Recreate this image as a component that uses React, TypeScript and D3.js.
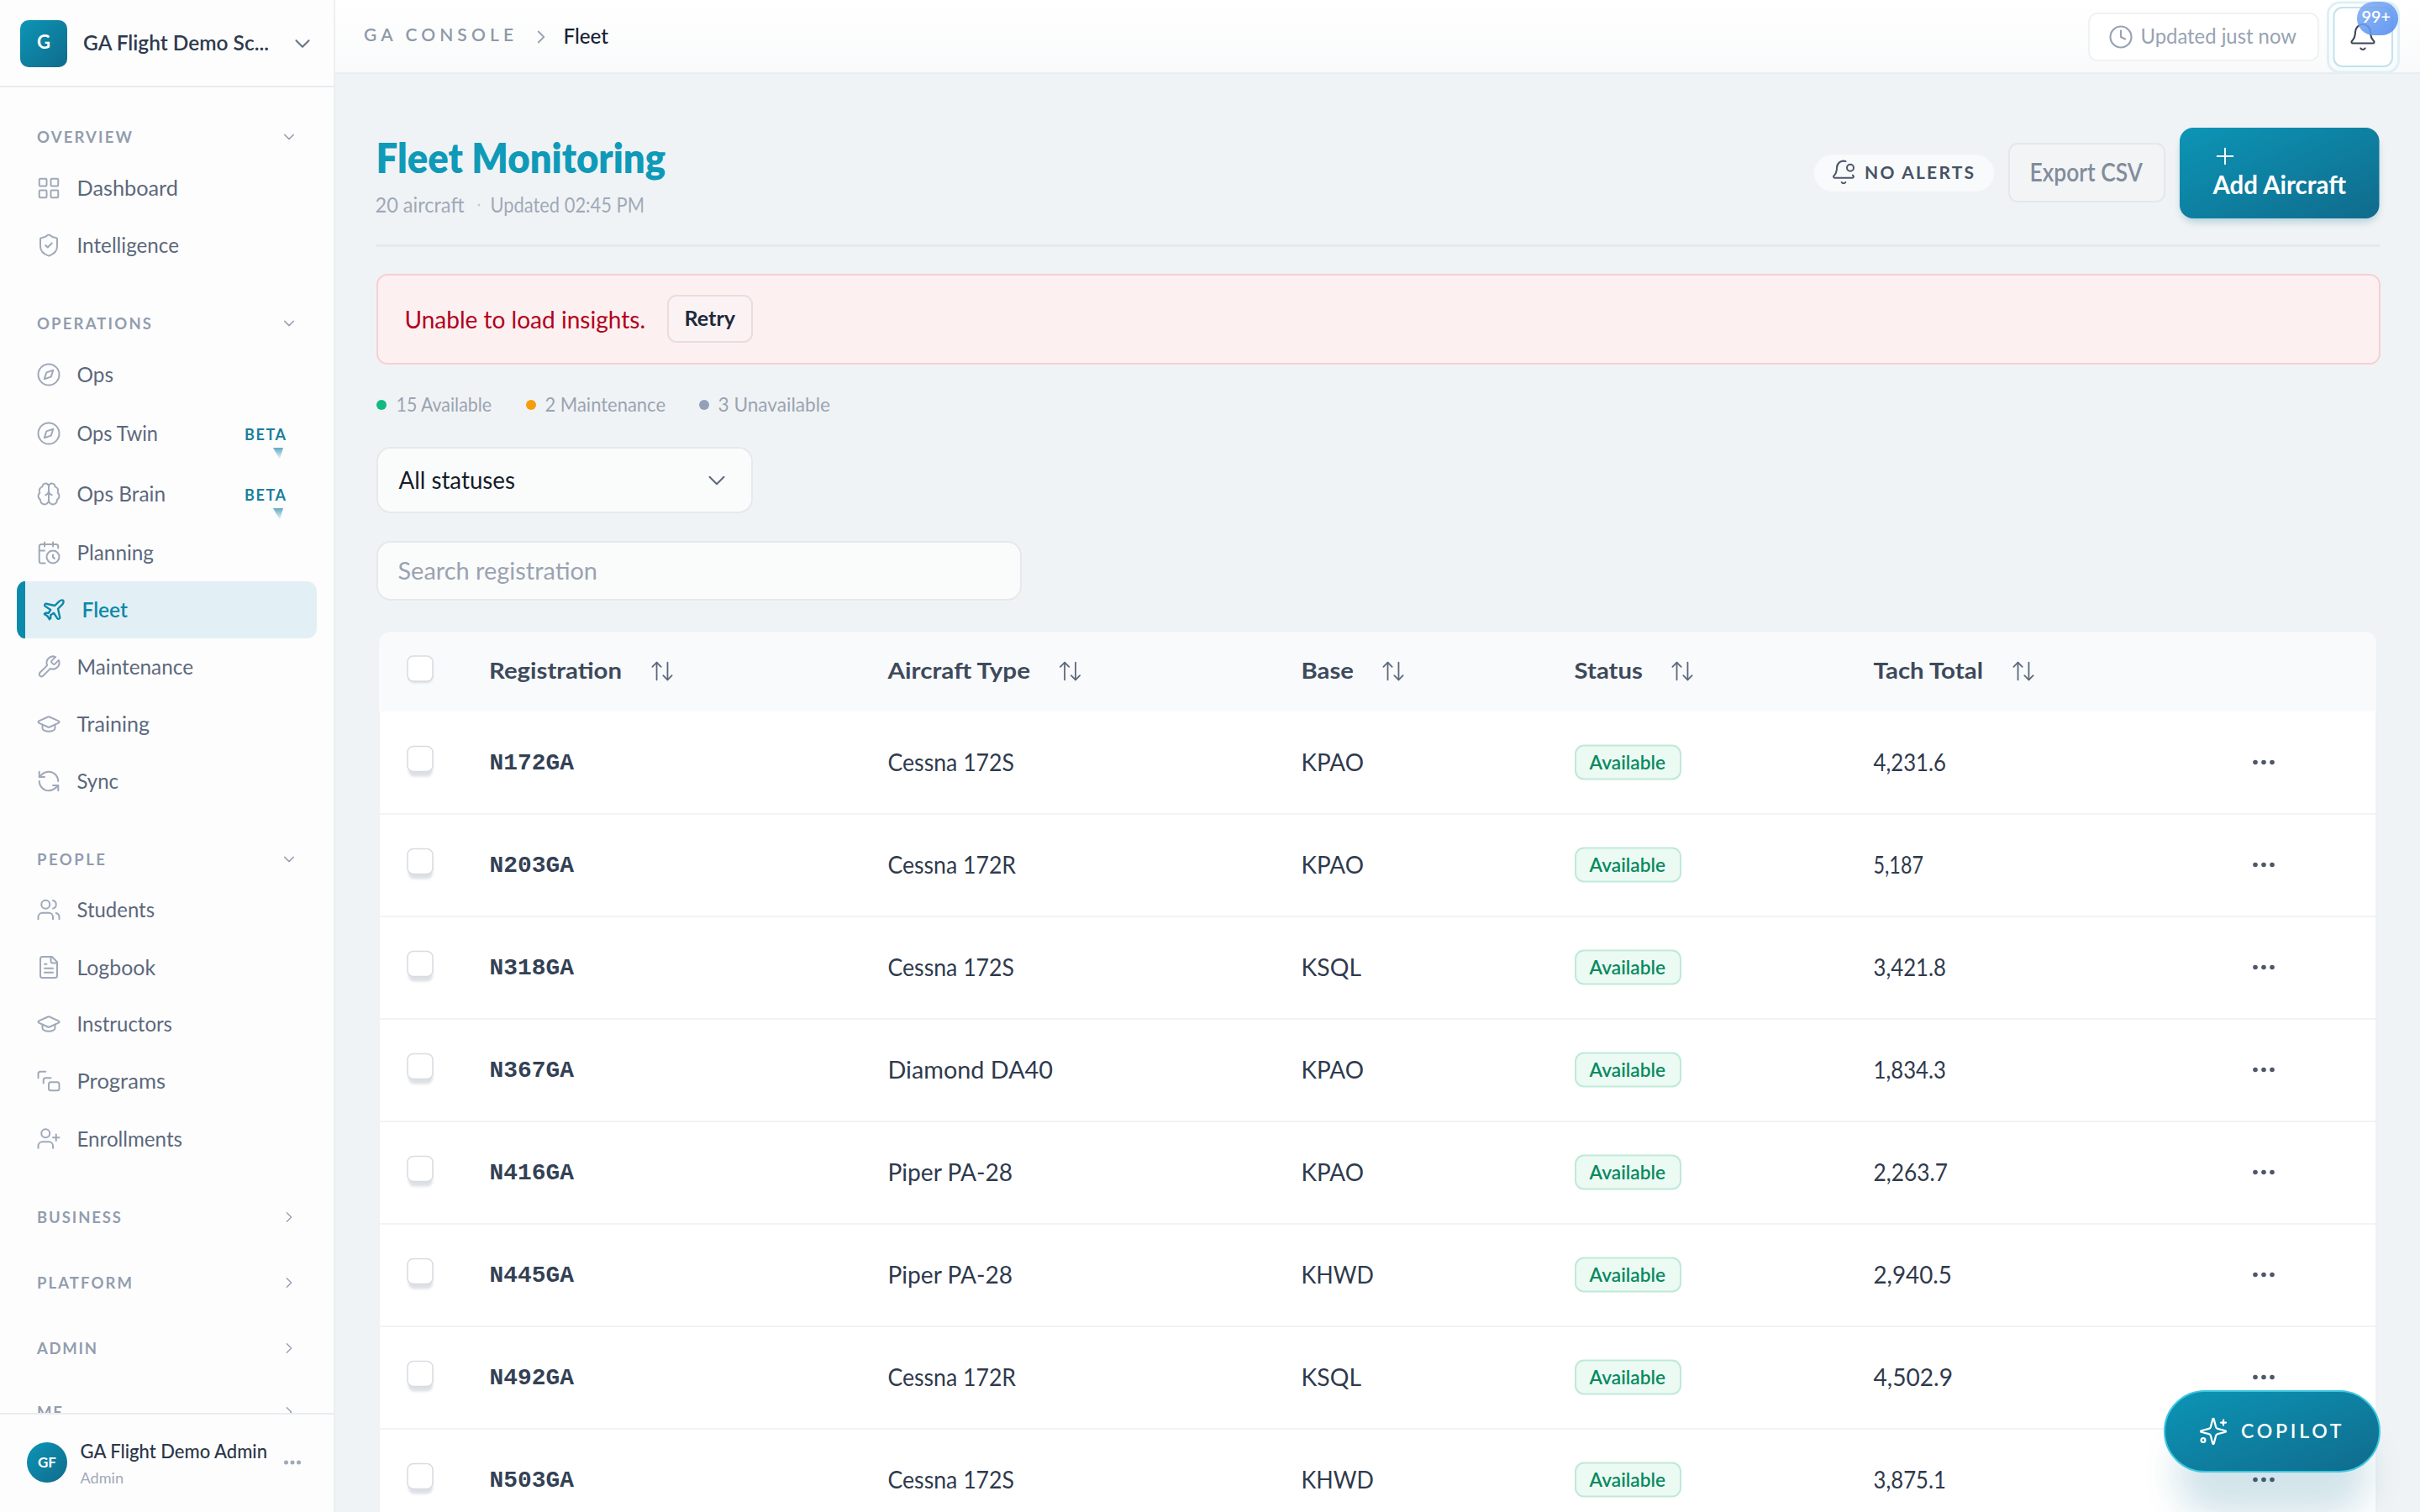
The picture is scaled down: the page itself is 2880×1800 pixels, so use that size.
import React from "react";
import * as d3 from "d3";

const registrations = ["N172GA", "N203GA", "N318GA", "N367GA", "N416GA", "N445GA", "N492GA", "N503GA"];
const aircraftTypes = ["Cessna 172S", "Cessna 172R", "Cessna 172S", "Diamond DA40", "Piper PA-28", "Piper PA-28", "Cessna 172R", "Cessna 172S"];
const bases = ["KPAO", "KPAO", "KSQL", "KPAO", "KPAO", "KHWD", "KSQL", "KHWD"];
const statuses = ["Available", "Available", "Available", "Available", "Available", "Available", "Available", "Available"];
const tachTotals = [4231.6, 5187, 3421.8, 1834.3, 2263.7, 2940.5, 4502.9, 3875.1];
const tableHeaders = ["Registration", "Aircraft Type", "Base", "Status", "Tach Total"];
const legendLabels = ["15 Available", "2 Maintenance", "3 Unavailable"];
const legendColors = ["#12b981", "#f59e0b", "#94a0b8"];

const navOverview = ["Dashboard", "Intelligence"];
const navOperations = ["Ops", "Ops Twin", "Ops Brain", "Planning", "Fleet", "Maintenance", "Training", "Sync"];
const navPeople = ["Students", "Logbook", "Instructors", "Programs", "Enrollments"];
const navSections = ["OVERVIEW", "OPERATIONS", "PEOPLE", "BUSINESS", "PLATFORM", "ADMIN", "ME"];

// layout
const SANS = "Lato, 'Noto Sans', sans-serif";
const MONO = "'Liberation Mono', 'DejaVu Sans Mono', monospace";
const navLayout: Record<string, [number, number]> = {
  Dashboard: [224, 212], Intelligence: [292, 213], Ops: [446, 135], "Ops Twin": [516, 188], "Ops Brain": [588, 197],
  Planning: [658, 183], Fleet: [726, 152], Maintenance: [794, 230], Training: [862, 178], Sync: [930, 141],
  Students: [1083, 184], Logbook: [1151.5, 185], Instructors: [1219, 205], Programs: [1287, 197], Enrollments: [1355.5, 217],
};
const sectionLayout: Record<string, [number, number, boolean]> = {
  OVERVIEW: [163, 157, true], OPERATIONS: [385, 180, true], PEOPLE: [1023, 125, true],
  BUSINESS: [1449, 144, false], PLATFORM: [1527, 157, false], ADMIN: [1605, 115, false], ME: [1681, 74, false],
};
const headerLayout: [number, number, number][] = [[583.5, 740, 788], [1058, 1226, 1273.5], [1550, 1611, 1658], [1875, 1955, 2002], [2231, 2360, 2408]];
const legendLayout: [number, number, number][] = [[454, 473, 585], [632, 650, 792], [838, 856, 988]];
const typeWidth: Record<string, number> = { "Cessna 172S": 149, "Cessna 172R": 151, "Diamond DA40": 195, "Piper PA-28": 147 };
const baseWidth: Record<string, number> = { KPAO: 73, KSQL: 70, KHWD: 85 };
const tachWidth: Record<string, number> = { "4,231.6": 85, "5,187": 58, "3,421.8": 85, "1,834.3": 85, "2,263.7": 87, "2,940.5": 92, "4,502.9": 93, "3,875.1": 85 };

const rowY = d3.scaleBand<string>().domain(registrations).range([847, 847 + 122 * registrations.length]);
const fmt = d3.format(",");

type P = string | [number, number, number] | [number, number, number, number, number];
const I: Record<string, P[]> = {
  grid: [[3, 3, 7, 7, 1], [14, 3, 7, 7, 1], [14, 14, 7, 7, 1], [3, 14, 7, 7, 1]],
  shield: ["M20 13c0 5-3.5 7.5-7.66 8.95a1 1 0 0 1-.67-.01C7.5 20.5 4 18 4 13V6a1 1 0 0 1 1-1c2 0 4.5-1.2 6.24-2.72a1.17 1.17 0 0 1 1.52 0C14.51 3.81 17 5 19 5a1 1 0 0 1 1 1z", "m9 12 2 2 4-4"],
  compass: [[12, 12, 10], "m16.24 7.76-2.12 6.36-6.36 2.12 2.12-6.36 6.36-2.12z"],
  brain: ["M12 5a3 3 0 1 0-5.997.125 4 4 0 0 0-2.526 5.77 4 4 0 0 0 .556 6.588A4 4 0 1 0 12 18Z", "M12 5a3 3 0 1 1 5.997.125 4 4 0 0 1 2.526 5.77 4 4 0 0 1-.556 6.588A4 4 0 1 1 12 18Z", "M15 13a4.5 4.5 0 0 1-3-4 4.5 4.5 0 0 1-3 4", "M12 5v13"],
  calendar: ["M21 7.5V6a2 2 0 0 0-2-2H5a2 2 0 0 0-2 2v14a2 2 0 0 0 2 2h3.5", "M16 2v4", "M8 2v4", "M3 10h5", "M17.5 17.5 16 16.3V14", [16, 16, 6]],
  plane: ["M17.8 19.2 16 11l3.5-3.5C21 6 21.5 4 21 3c-1-.5-3 0-4.5 1.5L13 8 4.8 6.2c-.5-.1-.9.1-1.1.5l-.3.5c-.2.5-.1 1 .3 1.3L9 12l-2 3H4l-1 1 3 2 2 3 1-1v-3l3-2 3.5 5.3c.3.4.8.5 1.3.3l.5-.2c.4-.3.6-.7.5-1.2z"],
  wrench: ["M14.7 6.3a1 1 0 0 0 0 1.4l1.6 1.6a1 1 0 0 0 1.4 0l3.77-3.77a6 6 0 0 1-7.94 7.94l-6.91 6.91a2.12 2.12 0 0 1-3-3l6.91-6.91a6 6 0 0 1 7.94-7.94l-3.76 3.76z"],
  cap: ["M21.42 10.922a1 1 0 0 0-.019-1.838L12.83 5.18a2 2 0 0 0-1.66 0L2.6 9.08a1 1 0 0 0 0 1.832l8.57 3.908a2 2 0 0 0 1.66 0z", "M6 12.5V16a6 3 0 0 0 12 0v-3.5"],
  sync: ["M21 12a9 9 0 0 0-9-9 9.75 9.75 0 0 0-6.74 2.74L3 8", "M3 3v5h5", "M3 12a9 9 0 0 0 9 9 9.75 9.75 0 0 0 6.74-2.74L21 16", "M16 16h5v5"],
  users: ["M16 21v-2a4 4 0 0 0-4-4H6a4 4 0 0 0-4 4v2", [9, 7, 4], "M22 21v-2a4 4 0 0 0-3-3.87", "M16 3.13a4 4 0 0 1 0 7.75"],
  file: ["M15 2H6a2 2 0 0 0-2 2v16a2 2 0 0 0 2 2h12a2 2 0 0 0 2-2V7Z", "M14 2v4a2 2 0 0 0 2 2h4", "M10 9H8", "M16 13H8", "M16 17H8"],
  stack: ["M2 9V5a2 2 0 0 1 2-2h5", "M7 14v-3a2 2 0 0 1 2-2h5", [12, 13, 10, 8, 2]],
  userPlus: ["M16 21v-2a4 4 0 0 0-4-4H6a4 4 0 0 0-4 4v2", [9, 7, 4], "M19 8v6", "M22 11h-6"],
  bell: ["M10.268 21a2 2 0 0 0 3.464 0", "M3.262 15.326A1 1 0 0 0 4 17h16a1 1 0 0 0 .74-1.673C19.41 13.956 18 12.499 18 8A6 6 0 0 0 6 8c0 4.499-1.411 5.956-2.738 7.326"],
  bellDot: ["M10.268 21a2 2 0 0 0 3.464 0", "M13.916 2.314A6 6 0 0 0 6 8c0 4.499-1.411 5.956-2.74 7.327A1 1 0 0 0 4 17h16a1 1 0 0 0 .74-1.673 9 9 0 0 1-.585-.665", [18, 8, 3]],
  clock: [[12, 12, 10], "M12 6v6l4 2"],
  down: ["m6 9 6 6 6-6"],
  right: ["m9 18 6-6-6-6"],
  sort: ["m21 16-4 4-4-4", "M17 20V4", "m3 8 4-4 4 4", "M7 4v16"],
  plus: ["M5 12h14", "M12 5v14"],
  spark: ["M9.937 15.5A2 2 0 0 0 8.5 14.063l-6.135-1.582a.5.5 0 0 1 0-.962L8.5 9.936A2 2 0 0 0 9.937 8.5l1.582-6.135a.5.5 0 0 1 .963 0L14.063 8.5A2 2 0 0 0 15.5 9.937l6.135 1.581a.5.5 0 0 1 0 .964L15.5 14.063a2 2 0 0 0-1.437 1.437l-1.582 6.135a.5.5 0 0 1-.963 0z", "M20 3v4", "M22 5h-4", [4, 19, 1.6]],
};
const navIcon: Record<string, string> = {
  Dashboard: "grid", Intelligence: "shield", Ops: "compass", "Ops Twin": "compass", "Ops Brain": "brain", Planning: "calendar",
  Fleet: "plane", Maintenance: "wrench", Training: "cap", Sync: "sync", Students: "users", Logbook: "file", Instructors: "cap", Programs: "stack", Enrollments: "userPlus",
};

function Icon({ n, x, y, s = 30, c = "#98a2b3", sw = 1.7 }: { n: string; x: number; y: number; s?: number; c?: string; sw?: number }) {
  return (
    <g transform={`translate(${x - s / 2},${y - s / 2}) scale(${s / 24})`} fill="none" stroke={c} strokeWidth={sw} strokeLinecap="round" strokeLinejoin="round">
      {I[n].map((p, i) =>
        typeof p === "string" ? <path key={i} d={p} /> :
        p.length === 3 ? <circle key={i} cx={p[0]} cy={p[1]} r={p[2]} /> :
        <rect key={i} x={p[0]} y={p[1]} width={p[2]} height={p[3]} rx={p[4]} />
      )}
    </g>
  );
}

// Body text is stretched a little taller than its nominal size to carry the reference's large x-height;
// `sp` spreads tracked capitals by spacing only.
function T({ t, x, x1, y, s, c, w = 400, ff = SANS, sp = false }: { t: string; x: number; x1: number; y: number; s: number; c: string; w?: number; ff?: string; sp?: boolean }) {
  const body = !sp && ff !== MONO;
  const size = body ? s * 1.06 : s;
  const left = body ? x - 1.5 : ff === MONO ? x - 1 : x;
  return (
    <text x={left} y={y + s * 0.35 + 1} fontSize={size} fill={c} fontWeight={w} fontFamily={ff} textLength={x1 - left} lengthAdjust={sp ? "spacing" : "spacingAndGlyphs"}>{t}</text>
  );
}

export default function App() {
  const sections = navSections.map((name) => {
    const [y, x1, open] = sectionLayout[name];
    return (
      <g key={name}>
        <T t={name} x={44} x1={x1} y={y} s={18.5} c="#939dae" w={700} sp />
        <Icon n={open ? "down" : "right"} x={344} y={y} s={21} c="#98a2b3" />
      </g>
    );
  });
  const navItems = [...navOverview, ...navOperations, ...navPeople].map((name) => {
    const [y, x1] = navLayout[name];
    const active = name === "Fleet";
    return (
      <g key={name}>
        {active && (
          <g>
            <rect x={20} y={692} width={357} height={68} rx={12} fill="#e2f0f6" />
            <path d="M30 692 h-2 a10 12 0 0 0 -8 12 v44 a10 12 0 0 0 8 12 h2 z" fill="#0c8aac" />
          </g>
        )}
        <Icon n={navIcon[name]} x={active ? 64 : 58} y={y} s={30} c={active ? "#0e88a8" : "#a0a9b8"} sw={active ? 1.9 : 1.6} />
        <T t={name} x={active ? 99 : 93} x1={x1} y={y} s={24} c={active ? "#0e88a8" : "#5c687b"} w={active ? 600 : 400} />
      </g>
    );
  });

  return (
    <svg width={2880} height={1800} viewBox="0 0 2880 1800" style={{ position: "absolute", left: 0, top: 0, display: "block" }}>
      <defs>
        <linearGradient id="teal" x1="0" y1="0" x2="1" y2="1">
          <stop offset="0" stopColor="#0c95b6" />
          <stop offset="1" stopColor="#106b8c" />
        </linearGradient>
        <linearGradient id="head" x1="0" y1="0" x2="0" y2="1">
          <stop offset="0" stopColor="#ffffff" />
          <stop offset="1" stopColor="#f9fafb" />
        </linearGradient>
        <linearGradient id="tri" x1="0" y1="0" x2="0" y2="1">
          <stop offset="0" stopColor="#5fa9c4" />
          <stop offset="1" stopColor="#5fa9c4" stopOpacity="0.05" />
        </linearGradient>
        <linearGradient id="badge" x1="0" y1="0" x2="1" y2="1">
          <stop offset="0" stopColor="#82aeef" />
          <stop offset="1" stopColor="#4d8af2" />
        </linearGradient>
        <filter id="blur" x="-40%" y="-80%" width="180%" height="260%"><feGaussianBlur stdDeviation="20" /></filter>
        <filter id="soft" x="-20%" y="-30%" width="140%" height="180%"><feGaussianBlur stdDeviation="5" /></filter>
        <filter id="small" x="-30%" y="-30%" width="160%" height="170%"><feGaussianBlur stdDeviation="1.5" /></filter>
        <clipPath id="navClip"><rect x={0} y={104} width={398} height={1579} /></clipPath>
      </defs>

      <rect width={2880} height={1800} fill="#f0f3f5" />

      {/* Sidebar */}
      <rect x={0} y={0} width={398} height={1800} fill="#fdfdfe" />
      <line x1={398} x2={398} y1={0} y2={1800} stroke="#e9ecef" strokeWidth={1.5} />
      <rect x={24} y={24} width={56} height={56} rx={10} fill="url(#teal)" />
      <text x={52} y={58} textAnchor="middle" fontFamily={SANS} fontWeight={700} fontSize={22} fill="#fff">G</text>
      <T t="GA Flight Demo Sc..." x={100.5} x1={320} y={51} s={24} c="#2f3a4d" w={600} />
      <Icon n="down" x={360} y={52} s={30} c="#6b7686" />
      <line x1={0} x2={398} y1={103} y2={103} stroke="#e9ecef" strokeWidth={2} />
      <g clipPath="url(#navClip)">
        {sections}
        {navItems}
        {[516, 588].map((y, i) => (
          <g key={i}>
            <T t="BETA" x={291} x1={340} y={y + 1} s={18} c="#1a7f9c" w={700} sp />
            <path d={`M325 ${y + 17} L337 ${y + 17} L333 ${y + 31} Z`} fill="url(#tri)" />
          </g>
        ))}
      </g>
      <line x1={0} x2={398} y1={1683} y2={1683} stroke="#e9ecef" strokeWidth={2} />
      <ellipse cx={56} cy={1741} rx={24} ry={24} fill="url(#teal)" />
      <text x={56} y={1747} textAnchor="middle" fontFamily={SANS} fontWeight={700} fontSize={17} fill="#fff">GF</text>
      <T t="GA Flight Demo Admin" x={97} x1={318} y={1727} s={22} c="#2b3648" w={500} />
      <T t="Admin" x={97} x1={147} y={1759} s={17} c="#a0a9b8" />
      {[340.5, 348, 355.5].map((x) => <circle key={x} cx={x} cy={1741} r={2.5} fill="#a0a9b8" />)}

      {/* Top bar */}
      <rect x={399} y={0} width={2481} height={87} fill="url(#head)" />
      <line x1={399} x2={2880} y1={87} y2={87} stroke="#e7eaed" strokeWidth={1.5} />
      <T t="GA CONSOLE" x={433} x1={611} y={41} s={21} c="#8e99a8" w={600} sp />
      <Icon n="right" x={644} y={44} s={26} c="#98a2b3" />
      <T t="Fleet" x={672} x1={724} y={43} s={24} c="#1a2233" w={500} />

      <rect x={2486} y={16} width={273} height={56} rx={10} fill="#fff" stroke="#eceef1" strokeWidth={1.5} />
      <Icon n="clock" x={2524} y={44} s={30} c="#98a2b3" />
      <T t="Updated just now" x={2549} x1={2733} y={43} s={24} c="#98a2b3" />
      <rect x={2770.5} y={3} width={84} height={83} rx={14} fill="none" stroke="#dff0f6" strokeWidth={3} />
      <rect x={2777.5} y={9} width={69.5} height={70} rx={10} fill="#fff" stroke="#bfe3ee" strokeWidth={2} />
      <Icon n="bell" x={2812} y={44} s={36} c="#3a4556" sw={1.4} />
      <rect x={2805} y={2} width={49} height={40} rx={20} fill="url(#badge)" opacity={0.88} />
      <T t="99+" x={2812} x1={2845} y={20} s={18} c="#fff" w={600} />

      {/* Page header */}
      <text x={447.5} y={205.5} fontFamily={SANS} fontSize={50} fontWeight={800} fill="#0e9ab8" textLength={344.5} lengthAdjust="spacingAndGlyphs">Fleet Monitoring</text>
      <T t="20 aircraft" x={448} x1={552.5} y={243.5} s={23} c="#a0a9b8" />
      <circle cx={570} cy={244} r={1.5} fill="#c5cbd4" />
      <T t="Updated 02:45 PM" x={585} x1={767} y={243.5} s={23} c="#a0a9b8" />

      <rect x={2159} y={184} width={214} height={44} rx={22} fill="#f8fafb" />
      <Icon n="bellDot" x={2194} y={205} s={32} c="#4c5769" sw={1.5} />
      <T t="NO ALERTS" x={2219} x1={2349} y={205} s={21} c="#475264" w={700} sp />
      <rect x={2391} y={171} width={185} height={69} rx={10} fill="#f2f4f6" stroke="#e4e7eb" strokeWidth={2} />
      <T t="Export CSV" x={2417} x1={2550} y={205} s={28} c="#828c9b" w={600} />
      <rect x={2596} y={162} width={234} height={102} rx={16} fill="#0f6f90" opacity={0.28} filter="url(#soft)" />
      <rect x={2594} y={152} width={237.5} height={108} rx={16} fill="url(#teal)" />
      <Icon n="plus" x={2648} y={186} s={32} c="#fff" sw={1.4} />
      <T t="Add Aircraft" x={2635} x1={2792} y={220} s={28} c="#fff" w={700} />
      <line x1={448} x2={2832} y1={292.5} y2={292.5} stroke="#e2e6ea" strokeWidth={2} />

      {/* Error */}
      <rect x={449} y={327} width={2383} height={106} rx={12} fill="#fdf0f0" stroke="#f6cfd3" strokeWidth={2} />
      <T t="Unable to load insights." x={483} x1={768} y={380} s={28} c="#b00020" />
      <rect x={795} y={352} width={100} height={55} rx={10} fill="#fbf3f3" stroke="#ecdcdc" strokeWidth={2} />
      <T t="Retry" x={816} x1={875} y={379} s={24} c="#1f2a3c" w={700} />

      {/* Status legend */}
      {legendLabels.map((l, i) => (
        <g key={l}>
          <circle cx={legendLayout[i][0]} cy={482} r={6} fill={legendColors[i]} />
          <T t={l} x={legendLayout[i][1]} x1={legendLayout[i][2]} y={481} s={22} c="#9aa3b2" />
        </g>
      ))}

      {/* Filters */}
      <rect x={449} y={533} width={446} height={77} rx={16} fill="#fafbfb" stroke="#e6e9ec" strokeWidth={2} />
      <T t="All statuses" x={476} x1={613} y={572} s={27} c="#151c2b" />
      <Icon n="down" x={853} y={572} s={34} c="#5c687b" sw={1.4} />
      <rect x={449} y={645} width={766} height={69} rx={16} fill="#fafbfb" stroke="#e6e9ec" strokeWidth={2} />
      <T t="Search registration" x={475} x1={711} y={680} s={27} c="#9aa3b2" />

      {/* Table */}
      <rect x={451} y={752} width={2377} height={1060} rx={14} fill="#fff" stroke="#edf0f2" strokeWidth={1.5} />
      <path d="M451 847 V766 a14 14 0 0 1 14 -14 H2814 a14 14 0 0 1 14 14 V847 Z" fill="#f9fafb" />
      <rect x={486} y={783} width={29} height={30} rx={7} fill="#aab2bd" opacity={0.4} filter="url(#small)" />
      <rect x={485} y={781} width={30} height={30} rx={7} fill="#fff" stroke="#d8dce2" strokeWidth={1.5} />
      {tableHeaders.map((h, i) => (
        <g key={h}>
          <T t={h} x={headerLayout[i][0]} x1={headerLayout[i][1]} y={798.5} s={25} c="#3d4a5c" w={700} />
          <Icon n="sort" x={headerLayout[i][2]} y={799} s={31} c="#5c687b" sw={1.4} />
        </g>
      ))}
      {registrations.map((reg, i) => {
        const top = rowY(reg)!;
        const cy = top + rowY.bandwidth() / 2 - 0.5;
        const tach = fmt(tachTotals[i]);
        return (
          <g key={reg}>
            {i > 0 && <line x1={451} x2={2828} y1={top} y2={top} stroke="#f1f3f5" strokeWidth={2} />}
            <rect x={486} y={cy - 13} width={29} height={30} rx={7} fill="#aab2bd" opacity={0.4} filter="url(#small)" />
            <rect x={485} y={cy - 19} width={30} height={30} rx={7} fill="#fff" stroke="#d8dce2" strokeWidth={1.5} />
            <T t={reg} x={583.5} x1={683} y={cy - 2} s={27} c="#334155" w={700} ff={MONO} />
            <T t={aircraftTypes[i]} x={1058} x1={1058 + typeWidth[aircraftTypes[i]]} y={cy} s={27} c="#2f3a4d" />
            <T t={bases[i]} x={1550} x1={1550 + baseWidth[bases[i]]} y={cy} s={27} c="#2f3a4d" />
            <rect x={1875} y={cy - 20} width={125} height={40} rx={10} fill="#ecfaf4" stroke="#bfe9d8" strokeWidth={2} />
            <T t={statuses[i]} x={1893} x1={1982} y={cy} s={21} c="#0a8a5f" w={600} />
            <T t={tach} x={2231} x1={2231 + tachWidth[tach]} y={cy} s={27} c="#2f3a4d" />
            {[2684, 2694, 2704].map((x) => <circle key={x} cx={x} cy={cy} r={2.8} fill="#4c5769" />)}
          </g>
        );
      })}

      {/* Copilot */}
      <rect x={2590} y={1700} width={230} height={105} rx={48} fill="#0f6f90" opacity={0.18} filter="url(#blur)" />
      <rect x={2576} y={1656} width={256} height={96} rx={48} fill="url(#teal)" stroke="#3cc7e0" strokeWidth={2} />
      <Icon n="spark" x={2634} y={1704} s={36} c="#fff" sw={1.5} />
      <T t="COPILOT" x={2667} x1={2786.5} y={1703} s={23} c="#fff" w={600} sp />
    </svg>
  );
}
